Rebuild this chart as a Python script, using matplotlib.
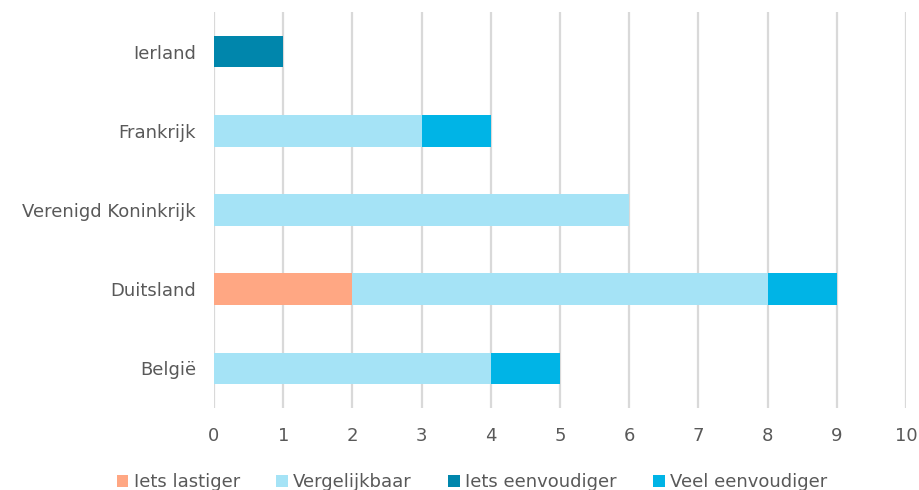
import numpy as np
import matplotlib.pyplot as plt

# Landen (van onder naar boven) en aantallen per categorie
landen = ["België", "Duitsland", "Verenigd Koninkrijk", "Frankrijk", "Ierland"]
iets_lastiger = [0, 2, 0, 0, 0]
vergelijkbaar = [4, 6, 6, 3, 0]
iets_eenvoudiger = [0, 0, 0, 0, 1]
veel_eenvoudiger = [1, 1, 0, 1, 0]

series = [
    ("Iets lastiger", iets_lastiger, "#FFA783"),
    ("Vergelijkbaar", vergelijkbaar, "#A5E3F6"),
    ("Iets eenvoudiger", iets_eenvoudiger, "#0086AC"),
    ("Veel eenvoudiger", veel_eenvoudiger, "#00B4E6"),
]

tekst = "#595959"
plt.rcParams['font.family'] = ['DejaVu Sans']
plt.rcParams['font.sans-serif'] = ['DejaVu Sans']

fig = plt.figure(figsize=(9.2, 4.9), dpi=100)
ax = fig.add_axes([0.2326, 0.1673, 0.7522, 0.8082])

y = np.arange(len(landen))
left = np.zeros(len(landen))
for naam, waarden, kleur in series:
    w = np.array(waarden, dtype=float)
    ax.barh(y, w, left=left, height=0.4, color=kleur, label=naam, zorder=3)
    left += w

ax.set_xlim(0, 10)
ax.set_ylim(-0.5, len(landen) - 0.5)
ax.set_xticks(range(0, 11))
ax.set_yticks(y)
ax.set_yticklabels(landen)
ax.tick_params(axis='both', length=0, labelsize=13, colors=tekst)
ax.tick_params(axis='x', pad=14)
ax.tick_params(axis='y', pad=13)
ax.grid(axis='x', color="#D9D9D9", linewidth=1.6, zorder=0)
for s in ax.spines.values():
    s.set_visible(False)

fig.legend(loc='lower center', bbox_to_anchor=(0.513, -0.036), ncol=4, frameon=False,
           prop={'family': 'DejaVu Sans', 'size': 13}, labelcolor=tekst,
           handlelength=0.65, handleheight=0.65, handletextpad=0.3, columnspacing=2.0)

fig.savefig("out.png", dpi=100)
